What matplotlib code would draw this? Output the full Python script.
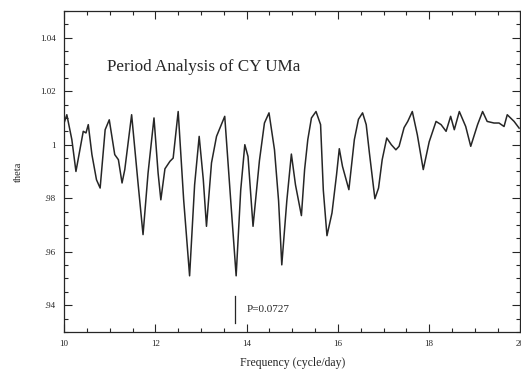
import numpy as np
import matplotlib
matplotlib.use("Agg")
import matplotlib.pyplot as plt
from matplotlib.ticker import MultipleLocator, FixedLocator

# frequency (cycle/day) and theta values
freq = [10.00, 10.06, 10.17, 10.26, 10.42, 10.48, 10.53, 10.61, 10.71, 10.79,
        10.90, 10.99, 11.11, 11.19, 11.27, 11.33, 11.48, 11.62, 11.73, 11.84,
        11.97, 12.06, 12.12, 12.21, 12.32, 12.39, 12.50, 12.62, 12.75, 12.86,
        12.96, 13.05, 13.12, 13.23, 13.34, 13.52, 13.65, 13.77, 13.87, 13.96,
        14.03, 14.14, 14.28, 14.39, 14.49, 14.61, 14.70, 14.77, 14.88, 14.98,
        15.07, 15.20, 15.27, 15.34, 15.42, 15.52, 15.62, 15.68, 15.76, 15.87,
        15.97, 16.03, 16.10, 16.24, 16.36, 16.45, 16.54, 16.62, 16.69, 16.81,
        16.89, 16.97, 17.07, 17.17, 17.27, 17.34, 17.45, 17.53, 17.63, 17.74,
        17.87, 18.00, 18.15, 18.26, 18.37, 18.47, 18.55, 18.66, 18.80, 18.91,
        19.06, 19.17, 19.27, 19.42, 19.53, 19.64, 19.71, 19.86, 19.97]
theta = [1.0081, 1.0112, 1.0019, 0.9900, 1.0050, 1.0044, 1.0075, 0.9963, 0.9869, 0.9838,
         1.0056, 1.0093, 0.9963, 0.9944, 0.9857, 0.9907, 1.0112, 0.9857, 0.9664, 0.9894,
         1.0100, 0.9894, 0.9794, 0.9910, 0.9938, 0.9950, 1.0124, 0.9794, 0.9510, 0.9850,
         1.0031, 0.9870, 0.9695, 0.9932, 1.0031, 1.0106, 0.9794, 0.9510, 0.9830, 1.0000,
         0.9956, 0.9695, 0.9940, 1.0081, 1.0119, 0.9981, 0.9790, 0.9551, 0.9790, 0.9965,
         0.9850, 0.9735, 0.9907, 1.0019, 1.0100, 1.0124, 1.0075, 0.9830, 0.9660, 0.9745,
         0.9888, 0.9985, 0.9919, 0.9832, 1.0019, 1.0095, 1.0119, 1.0075, 0.9969, 0.9798,
         0.9838, 0.9944, 1.0025, 1.0000, 0.9981, 0.9994, 1.0064, 1.0087, 1.0124, 1.0037,
         0.9907, 1.0011, 1.0087, 1.0075, 1.0050, 1.0106, 1.0056, 1.0124, 1.0068, 0.9994,
         1.0075, 1.0124, 1.0087, 1.0081, 1.0081, 1.0068, 1.0112, 1.0087, 1.0062]

x_ticks = [10, 12, 14, 16, 18, 20]
x_ticklabels = ["10", "12", "14", "16", "18", "20"]
y_ticks = [0.94, 0.96, 0.98, 1.00, 1.02, 1.04]
y_ticklabels = [".94", ".96", ".98", "1", "1.02", "1.04"]

best_freq = 1 / 0.0727
best_label = "P=0.0727"

plt.rcParams["font.family"] = ["Liberation Serif", "DejaVu Serif"]
ink = "#262626"

fig = plt.figure(figsize=(5.21, 3.76), dpi=100, facecolor="white")
ax = fig.add_axes([0.123, 0.117, 0.876, 0.854])

ax.plot(freq, theta, color=ink, lw=1.1, solid_joinstyle="round")

ax.set_xlim(10, 20)
ax.set_ylim(0.93, 1.05)
ax.xaxis.set_major_locator(FixedLocator(x_ticks))
ax.set_xticklabels(x_ticklabels)
ax.yaxis.set_major_locator(FixedLocator(y_ticks))
ax.set_yticklabels(y_ticklabels)
ax.xaxis.set_minor_locator(MultipleLocator(0.5))
ax.yaxis.set_minor_locator(MultipleLocator(0.005))

ax.tick_params(which="both", direction="in", top=True, right=True,
               colors=ink, labelsize=6.5, width=0.8)
ax.tick_params(which="major", length=6, pad=6)
ax.tick_params(which="minor", length=3)
for spine in ax.spines.values():
    spine.set_color(ink)
    spine.set_linewidth(0.9)

ax.set_xlabel("Frequency (cycle/day)", fontsize=8.5, color=ink, labelpad=6)
ax.set_ylabel("theta", fontsize=7.5, color=ink, labelpad=12)

ax.text(0.095, 0.825, "Period Analysis of CY UMa", transform=ax.transAxes,
        fontsize=12.3, color=ink, ha="left", va="center")

# marker for the best period
ax.plot([best_freq, best_freq], [0.9335, 0.9435], color=ink, lw=0.9)
ax.text(best_freq + 0.25, 0.9385, best_label, fontsize=8, color=ink,
        ha="left", va="center")

fig.savefig("out.png", dpi=100, facecolor="white")
